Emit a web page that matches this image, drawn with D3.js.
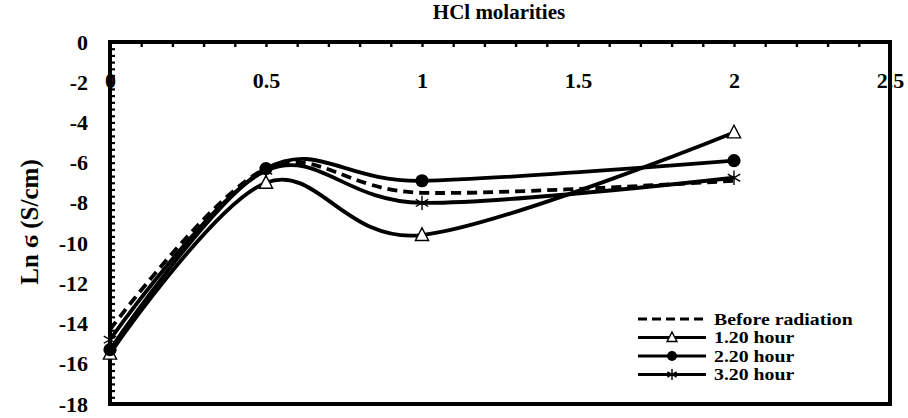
<!DOCTYPE html>
<html>
<head>
<meta charset="utf-8">
<script src="https://cdn.jsdelivr.net/npm/d3@7"></script>
<style>
  body { margin: 0; background: #fff; }
</style>
</head>
<body>
<svg id="chart" width="908" height="418"></svg>
<script>
// HCl molarity (x) and Ln conductivity values
const molarities = [0, 0.5, 1, 2];
const beforeRadiation = [-14.3, -6.3, -7.5, -6.9];
const hour120 = [-15.5, -7.0, -9.6, -4.5];
const hour220 = [-15.3, -6.3, -6.9, -5.9];
const hour320 = [-14.8, -6.4, -8.0, -6.75];

const xTickValues = [0, 0.5, 1, 1.5, 2, 2.5];
const xTickLabels = ['0', '0.5', '1', '1.5', '2', '2.5'];
const yTickValues = [0, -2, -4, -6, -8, -10, -12, -14, -16, -18];

const seriesNames = ['Before radiation', '1.20 hour', '2.20 hour', '3.20 hour'];
const seriesValues = [beforeRadiation, hour120, hour220, hour320];
const seriesMarkers = ['none', 'triangle', 'circle', 'asterisk'];

const FONT = '"Liberation Serif", "Times New Roman", "DejaVu Serif", serif';

const svg = d3.select('#chart');
const plot = { left: 110, right: 890, top: 42, bottom: 404 };

const x = d3.scaleLinear().domain([0, 2.5]).range([plot.left, plot.right]);
const y = d3.scaleLinear().domain([-18, 0]).range([plot.bottom, plot.top]);

function styleText(sel, size) {
    sel.attr('font-family', FONT)
        .attr('font-weight', 'bold')
        .attr('font-size', size)
        .attr('fill', '#000');
}

// Title
svg.append('text')
    .attr('x', 499).attr('y', 19)
    .attr('text-anchor', 'middle')
    .text('HCl molarities')
    .call(styleText, 21);

// Y axis label
svg.append('text')
    .attr('transform', 'translate(38,222) rotate(-90)')
    .attr('text-anchor', 'middle')
    .text('Ln ϭ (S/cm)')
    .call(styleText, 25);

// X tick labels (drawn under the frame so the frame cuts them like the original)
svg.append('g')
    .attr('transform', `translate(0,${plot.top})`)
    .call(d3.axisBottom(x).tickValues(xTickValues).tickSize(0).tickPadding(30)
        .tickFormat((d, i) => xTickLabels[i]))
    .call(g => g.select('.domain').remove())
    .selectAll('text').call(styleText, 22);

// Y tick labels
svg.append('g')
    .attr('transform', `translate(${plot.left - 22},0)`)
    .call(d3.axisLeft(y).tickValues(yTickValues).tickSize(0).tickPadding(0)
        .tickFormat(d => String(d)))
    .call(g => g.select('.domain').remove())
    .selectAll('text').call(styleText, 22);

// Minor/major ticks pointing into the plot
const xMinor = d3.range(0, 2.5001, 0.1);
svg.append('g')
    .attr('transform', `translate(0,${plot.top})`)
    .call(d3.axisBottom(x).tickValues(xMinor).tickSize(5).tickFormat(''))
    .call(g => g.select('.domain').remove())
    .selectAll('line').attr('stroke', '#000').attr('stroke-width', 2.4);

const yMinor = d3.range(0, 55).map(i => -i / 3);
svg.append('g')
    .attr('transform', `translate(${plot.left},0)`)
    .call(d3.axisRight(y).tickValues(yMinor).tickSize(5).tickFormat(''))
    .call(g => g.select('.domain').remove())
    .selectAll('line').attr('stroke', '#000').attr('stroke-width', 2.2);

// Frame
svg.append('rect')
    .attr('x', plot.left).attr('y', plot.top)
    .attr('width', plot.right - plot.left).attr('height', plot.bottom - plot.top)
    .attr('fill', 'none').attr('stroke', '#000').attr('stroke-width', 4);

// Series lines (Excel-like smoothing)
const line = d3.line()
    .x(d => x(d[0]))
    .y(d => y(d[1]))
    .curve(d3.curveCardinal.tension(0));

const seriesGroup = svg.append('g');
seriesValues.forEach((vals, i) => {
    const pts = molarities.map((m, j) => [m, vals[j]]);
    seriesGroup.append('path')
        .datum(pts)
        .attr('d', line)
        .attr('fill', 'none')
        .attr('stroke', '#000')
        .attr('stroke-width', 3.8)
        .attr('stroke-dasharray', i === 0 ? '10,6' : null);
});

function drawMarker(g, type, cx, cy, s) {
    if (type === 'triangle') {
        g.append('path')
            .attr('d', `M${cx},${cy - s * 0.6}L${cx + s * 0.55},${cy + s * 0.45}L${cx - s * 0.55},${cy + s * 0.45}Z`)
            .attr('fill', '#fff').attr('stroke', '#000').attr('stroke-width', 1.4);
    } else if (type === 'circle') {
        g.append('circle').attr('cx', cx).attr('cy', cy).attr('r', s * 0.55).attr('fill', '#000');
    } else if (type === 'asterisk') {
        const r = s * 0.6;
        const d = [90, 30, 150].map(a => {
            const rad = a * Math.PI / 180;
            return `M${cx - r * Math.cos(rad)},${cy - r * Math.sin(rad)}L${cx + r * Math.cos(rad)},${cy + r * Math.sin(rad)}`;
        }).join('');
        g.append('path').attr('d', d).attr('stroke', '#000').attr('stroke-width', 1.4);
    }
}

const markerGroup = svg.append('g');
seriesValues.forEach((vals, i) => {
    molarities.forEach((m, j) => drawMarker(markerGroup, seriesMarkers[i], x(m), y(vals[j]), 12));
});

// Legend (text slightly widened so the rows stay tight without overlapping)
const legend = svg.append('g');
seriesNames.forEach((name, i) => {
    const ly = 319 + i * 18.5;
    legend.append('line')
        .attr('x1', 638).attr('x2', 706).attr('y1', ly).attr('y2', ly)
        .attr('stroke', '#000').attr('stroke-width', 3.2)
        .attr('stroke-dasharray', i === 0 ? '9,5' : null);
    drawMarker(legend, seriesMarkers[i], 672, ly, 9);
    legend.append('text')
        .attr('transform', `translate(714,${ly + 5.5}) scale(1.2,1)`)
        .text(name)
        .call(styleText, 16.5);
});
</script>
</body>
</html>
